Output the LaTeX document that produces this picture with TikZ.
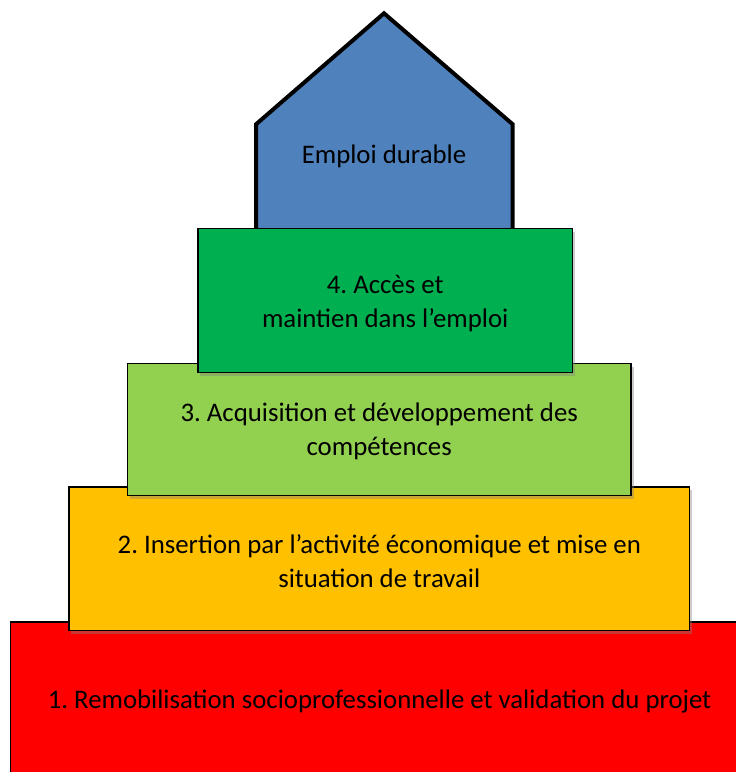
\documentclass[tikz,border=0pt]{standalone}
\usepackage{fontspec}
\setmainfont{Carlito}
\frenchspacing
\usetikzlibrary{shadows}
\definecolor{cblue}{HTML}{4F81BD}
\definecolor{cgreen}{HTML}{00B050}
\definecolor{clight}{HTML}{92D050}
\definecolor{cyellow}{HTML}{FFC000}
\definecolor{cred}{HTML}{FF0000}
\tikzset{
  stepbox/.style={draw=black, line width=1.5pt, rectangle, inner sep=0pt,
    drop shadow={opacity=0.4, shadow xshift=2.5pt, shadow yshift=-3.5pt}},
  housestyle/.style={draw=black, line width=4pt, fill=cblue, line join=miter},
  labeltext/.style={font=\fontsize{26.8}{33.8}\selectfont, inner sep=0pt, align=center}
}
\begin{document}
\begin{tikzpicture}[x=1pt, y=-1pt]
\useasboundingbox (0,0) rectangle (736,772);
\node[stepbox, fill=cred, minimum width=738.7pt, minimum height=158pt] (b1) at (379.6,700.8) {};
\node[labeltext] (t1) at ([yshift=-1pt]b1.center)
  {1. Remobilisation socioprofessionnelle et validation du projet};
\node[stepbox, fill=cyellow, minimum width=620.7pt, minimum height=143.7pt] (b2) at (379.3,558.8) {};
\node[labeltext] (t2) at ([yshift=-2.5pt]b2.center)
  {2. Insertion par l’activité économique et mise en\\situation de travail};
\node[stepbox, fill=clight, minimum width=503.7pt, minimum height=132.4pt] (b3) at (379.2,429.5) {};
\node[labeltext] (t3) at ([yshift=-1.5pt]b3.center)
  {3. Acquisition et développement des\\compétences};
\coordinate (h1) at (256,240);
\coordinate (h2) at (256,124.3);
\coordinate (h3) at (384,13.3);
\coordinate (h4) at (512.7,124.3);
\coordinate (h5) at (512.7,240);
\draw[housestyle] (h1) -- (h2) -- (h3) -- (h4) -- (h5) -- cycle;
\node[labeltext] (house) at (384,156) {Emploi durable};
\node[stepbox, fill=cgreen, minimum width=374.5pt, minimum height=144pt] (b4) at (385.2,300.3) {};
\node[labeltext] (t4) at ([yshift=-3pt]b4.center)
  {4. Accès et\\maintien dans l’emploi};
\end{tikzpicture}
\end{document}
